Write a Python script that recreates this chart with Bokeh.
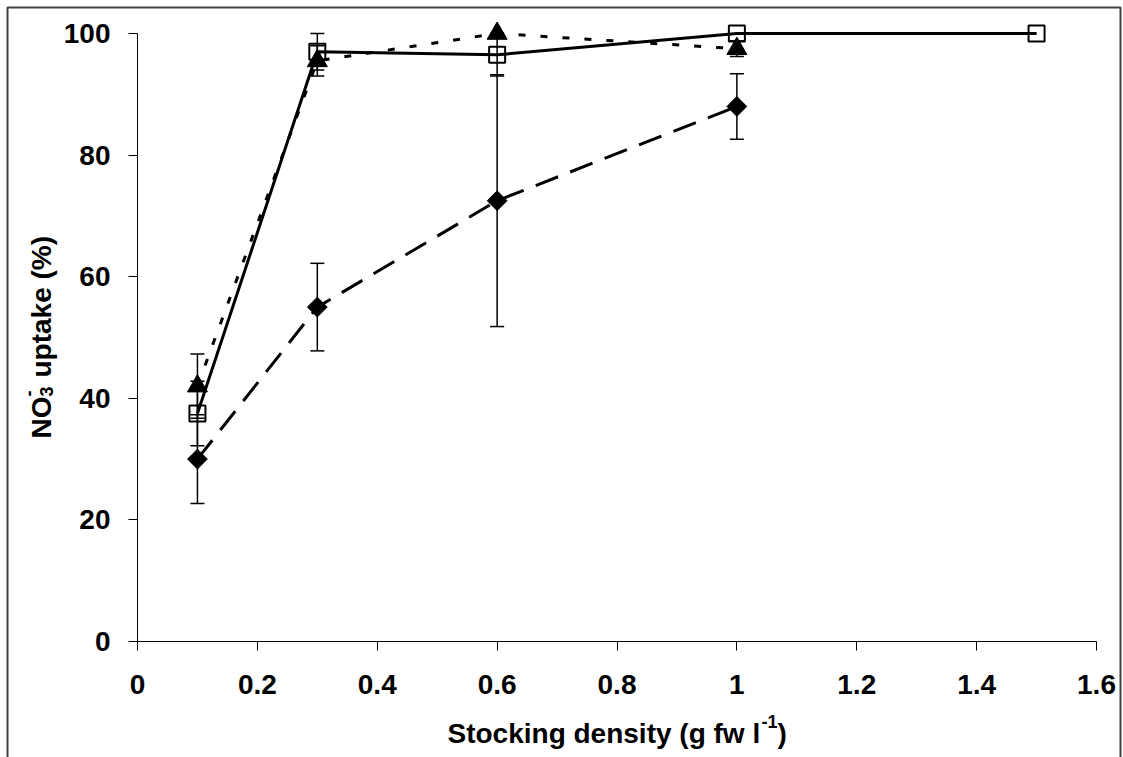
from math import pi

from bokeh.plotting import figure
from bokeh.models import (Range1d, FixedTicker, Whisker, TeeHead, ColumnDataSource,
                          Label, BoxAnnotation)
from bokeh.embed import file_html
from bokeh.resources import INLINE

# --- data: NO3- uptake (%) vs stocking density (g fw l-1), mean ± error ---
density_dia = [0.1, 0.3, 0.6, 1.0]
uptake_dia = [30.0, 55.0, 72.5, 88.0]
err_dia = [7.3, 7.2, 20.7, 5.4]

density_sq = [0.1, 0.3, 0.6, 1.0, 1.5]
uptake_sq = [37.5, 97.0, 96.5, 100.0, 100.0]
err_sq = [5.3, 3.0, 3.5, 0.0, 0.0]

density_tri = [0.1, 0.3, 0.6, 1.0]
uptake_tri = [42.0, 95.5, 100.0, 97.5]
err_tri = [5.3, 2.5, 0.0, 1.3]

x_ticks = [0, 0.2, 0.4, 0.6, 0.8, 1.0, 1.2, 1.4, 1.6]
x_tick_labels = ["0", "0.2", "0.4", "0.6", "0.8", "1", "1.2", "1.4", "1.6"]
y_ticks = [0, 20, 40, 60, 80, 100]

# --- layout: the frame spans the whole canvas, axes sit at fixed locations ---
W, H = 1123, 757
AX_LEFT, AX_RIGHT, AX_TOP, AX_BOTTOM = 137, 1096, 33, 641   # pixel box of the axes
X0, X1 = 0.0, 1.6
Y0, Y1 = 0.0, 100.0
FONT = "Liberation Sans"

sx = (AX_RIGHT - AX_LEFT) / (X1 - X0)
sy = (AX_BOTTOM - AX_TOP) / (Y1 - Y0)
x_range = Range1d(X0 - AX_LEFT / sx, X1 + (W - AX_RIGHT) / sx)
y_range = Range1d(Y0 - (H - AX_BOTTOM) / sy, Y1 + AX_TOP / sy)


def px_to_x(px):
    return X0 + (px - AX_LEFT) / sx


def py_to_y(py):
    return Y0 + (AX_BOTTOM - py) / sy


p = figure(width=W, height=H, x_range=x_range, y_range=y_range,
           output_backend="svg", toolbar_location=None,
           min_border_left=0, min_border_right=0,
           min_border_top=0, min_border_bottom=0)
p.grid.visible = False
p.outline_line_color = None
p.background_fill_color = "white"
p.border_fill_color = "white"

for ax in (p.xaxis[0], p.yaxis[0]):
    ax.axis_line_color = "black"
    ax.axis_line_width = 1
    ax.major_tick_line_color = "black"
    ax.major_tick_line_width = 1
    ax.major_tick_in = 0
    ax.major_tick_out = 9
    ax.minor_tick_line_color = None
    ax.major_label_text_font = FONT
    ax.major_label_text_font_style = "bold"
    ax.major_label_text_font_size = "28px"
    ax.major_label_text_color = "black"

p.xaxis.fixed_location = Y0
p.xaxis.bounds = (X0, X1)
p.xaxis.ticker = FixedTicker(ticks=x_ticks)
p.xaxis.major_label_overrides = {t: s for t, s in zip(x_ticks, x_tick_labels)}
p.xaxis.major_label_standoff = 24

p.yaxis.fixed_location = X0
p.yaxis.bounds = (Y0, Y1)
p.yaxis.ticker = FixedTicker(ticks=y_ticks)
p.yaxis.major_label_standoff = 18

# --- series lines ---
p.line(density_dia, uptake_dia, line_color="black", line_width=3, line_dash="24 13")
p.line(density_sq, uptake_sq, line_color="black", line_width=3)
p.line(density_tri, uptake_tri, line_color="black", line_width=3, line_dash="7 15")


# --- error bars ---
def add_errors(xs, ys, errs):
    keep = [i for i, e in enumerate(errs) if e > 0]
    src = ColumnDataSource(dict(
        x=[xs[i] for i in keep],
        lower=[ys[i] - errs[i] for i in keep],
        upper=[ys[i] + errs[i] for i in keep],
    ))
    w = Whisker(base="x", lower="lower", upper="upper", source=src,
                line_color="black", line_width=1.5,
                upper_head=TeeHead(size=14, line_color="black", line_width=1.5),
                lower_head=TeeHead(size=14, line_color="black", line_width=1.5))
    p.add_layout(w)


add_errors(density_dia, uptake_dia, err_dia)
add_errors(density_sq, uptake_sq, err_sq)
add_errors(density_tri, uptake_tri, err_tri)

# --- markers ---
p.scatter(density_dia, uptake_dia, marker="square", angle=pi / 4, size=14,
          fill_color="black", line_color="black")
p.scatter(density_sq, uptake_sq, marker="square", size=16,
          fill_color=None, line_color="black", line_width=2)
p.scatter(density_tri, uptake_tri, marker="triangle", size=20,
          fill_color="black", line_color="black")


# --- axis titles with sub/superscripts ---
def text(x_px, y_px, s, size, angle=0.0):
    p.add_layout(Label(x=px_to_x(x_px), y=py_to_y(y_px), text=s,
                       text_font=FONT, text_font_style="bold",
                       text_font_size=f"{size}px", text_color="black",
                       text_align="left", text_baseline="alphabetic",
                       angle=angle))


# x title: "Stocking density (g fw l^-1)"
text(447, 733, "Stocking density (g fw l", 28)
text(761, 721, "-1", 18)
text(777, 733, ")", 28)

# y title: "NO3^- uptake (%)", rotated
yb = 438
text(41, yb, "NO", 28, pi / 2)
text(46, yb - 42, "3", 18, pi / 2)
text(28, yb - 42, "-", 18, pi / 2)
text(41, yb - 61, "uptake (%)", 28, pi / 2)

# chart area border
p.add_layout(BoxAnnotation(left=px_to_x(7), right=px_to_x(1120),
                           top=py_to_y(7), bottom=py_to_y(H + 20),
                           fill_color=None, fill_alpha=0,
                           line_color="#404040", line_alpha=1, line_width=2))

open("out.html", "w").write(file_html(p, INLINE))
